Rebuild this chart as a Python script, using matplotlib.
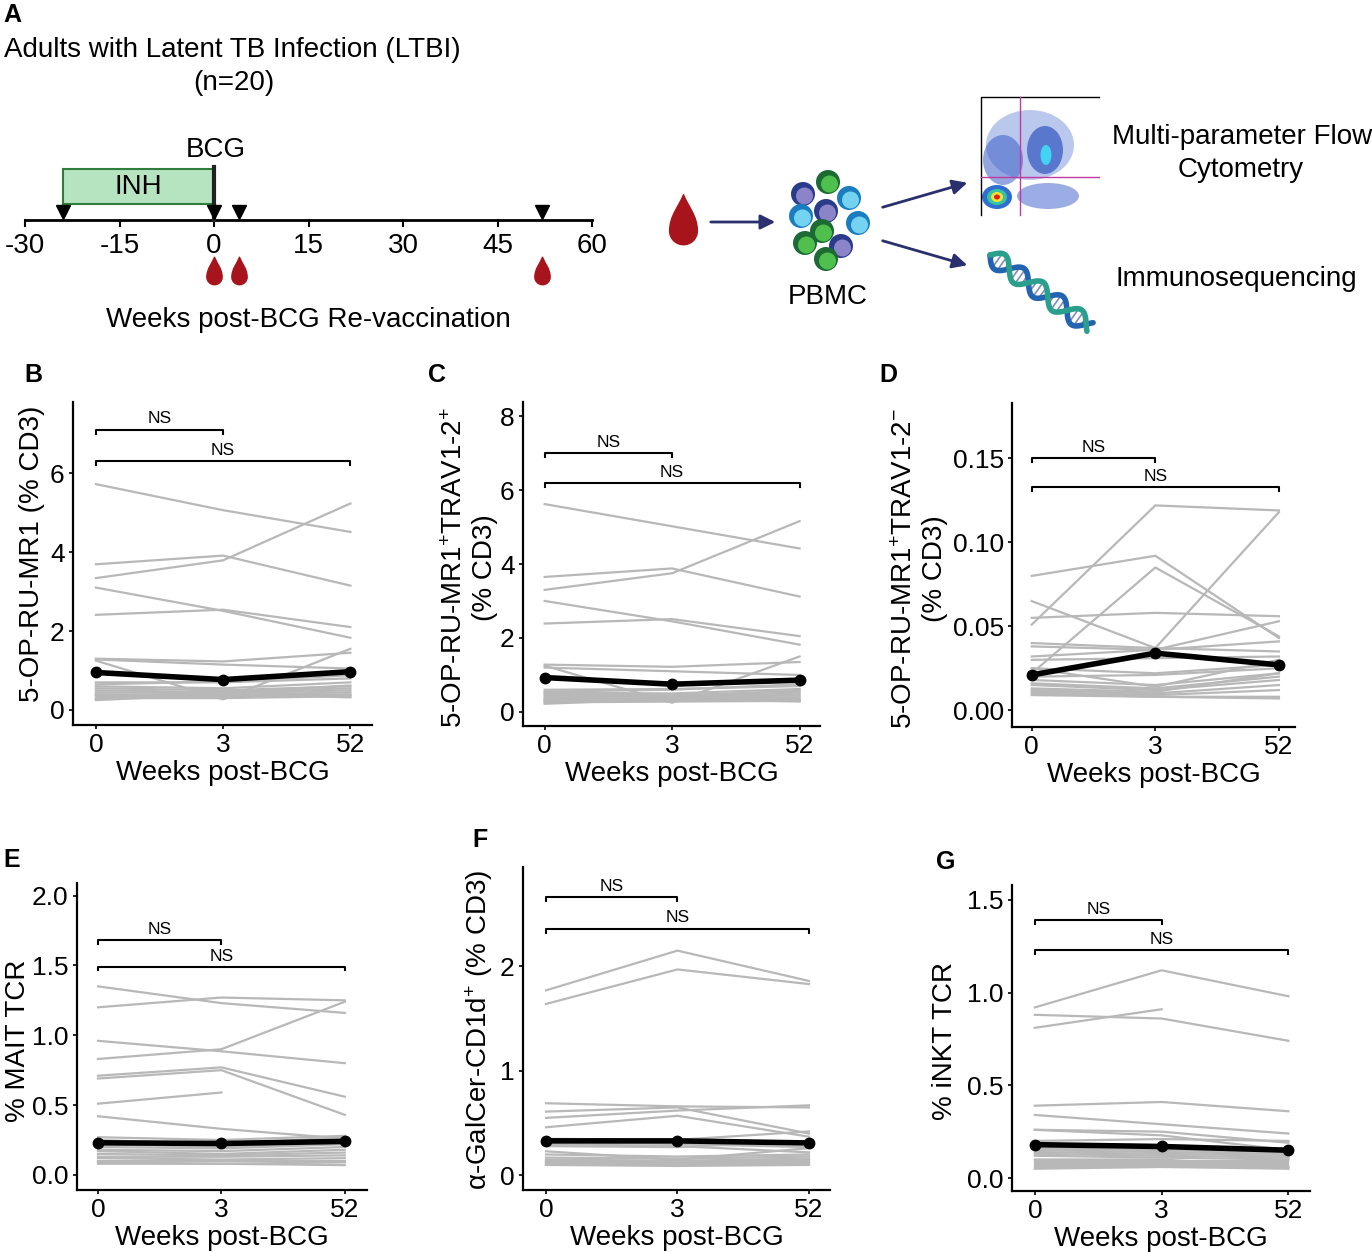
import numpy as np
import matplotlib
matplotlib.use('Agg')
import matplotlib.pyplot as plt
from matplotlib.path import Path
from matplotlib.patches import Rectangle, Ellipse, Circle

plt.rcParams['font.family'] = ['Liberation Sans', 'DejaVu Sans']
plt.rcParams['mathtext.fontset'] = 'custom'
plt.rcParams['mathtext.rm'] = 'Liberation Sans'
plt.rcParams['mathtext.it'] = 'Liberation Sans:italic'

# ---- panel A timeline data (weeks) ----
timeline_ticks = [-30, -15, 0, 15, 30, 45, 60]
visit_weeks = [-24, 0, 4, 52]
sample_weeks = [0, 4, 52]
inh_start = -24
inh_end = 0

# ---- schematic cells (pixel layout of the illustration) ----
cell_x = [828, 803, 849, 801, 826, 858, 822, 841, 805, 826]
cell_y = [182, 194, 198, 216, 211, 223, 231, 246, 243, 259]
cell_kind = ['g', 'p', 'b', 'b', 'p', 'b', 'g', 'p', 'g', 'g']

# ---- line panels: rows = participants, cols = week 0, 3, 52 ----
weeks = ['0', '3', '52']

b_lines = [
    [5.72, 5.06, 4.51], [3.34, 3.79, 5.23], [3.69, 3.91, 3.15], [3.10, 2.51, 1.83],
    [2.41, 2.54, 2.10], [1.30, 1.23, 1.45], [1.25, 0.27, 1.55], [1.28, 1.15, 1.05],
    [0.70, 0.70, 0.80], [0.65, 0.72, 0.88], [0.60, 0.55, 0.70], [0.55, 0.50, 0.60],
    [0.50, 0.45, 0.55], [0.45, 0.42, 0.50], [0.40, 0.38, 0.45], [0.38, 0.35, 0.40],
    [0.35, 0.33, 0.38], [0.30, 0.30, 0.35], [0.25, 0.40, 0.32], [0.28, 0.45, 0.62],
]
b_summary = [0.95, 0.77, 0.97]

c_lines = [
    [5.62, 5.02, 4.42], [3.30, 3.75, 5.16], [3.65, 3.88, 3.12], [3.00, 2.45, 1.82],
    [2.39, 2.51, 2.05], [1.28, 1.22, 1.35], [1.25, 0.25, 1.50], [1.20, 1.10, 1.00],
    [0.60, 0.62, 0.70], [0.55, 0.60, 0.75], [0.52, 0.50, 0.62], [0.48, 0.45, 0.55],
    [0.45, 0.40, 0.50], [0.40, 0.38, 0.45], [0.36, 0.35, 0.40], [0.33, 0.32, 0.36],
    [0.30, 0.30, 0.33], [0.26, 0.28, 0.30], [0.22, 0.36, 0.28], [0.28, 0.42, 0.58],
]
c_summary = [0.93, 0.75, 0.86]

d_lines = [
    [0.080, 0.092, 0.043], [0.051, 0.122, 0.119], [0.065, 0.037, 0.035], [0.055, 0.058, 0.056],
    [0.022, 0.085, 0.044], [0.040, 0.037, 0.118], [0.032, 0.036, 0.053], [0.038, 0.036, 0.041],
    [0.030, 0.031, 0.032], [0.025, 0.022, 0.027], [0.020, 0.021, 0.025], [0.018, 0.015, 0.022],
    [0.016, 0.013, 0.020], [0.015, 0.012, 0.018], [0.013, 0.011, 0.022], [0.012, 0.010, 0.015],
    [0.011, 0.009, 0.012], [0.010, 0.008, 0.008], [0.009, 0.008, 0.007], [0.025, 0.014, 0.030],
]
d_summary = [0.021, 0.034, 0.027]

e_lines = [
    [1.35, 1.23, 1.16], [1.20, 1.27, 1.25], [0.96, 0.885, 0.80], [0.83, 0.90, 1.24],
    [0.71, 0.77, 0.56], [0.69, 0.75, 0.43], [0.51, 0.59, np.nan], [0.42, 0.33, 0.26],
    [0.27, 0.25, 0.28], [0.25, 0.22, 0.27], [0.22, 0.20, 0.24], [0.20, 0.19, 0.22],
    [0.18, 0.17, 0.20], [0.17, 0.15, 0.18], [0.15, 0.14, 0.16], [0.13, 0.13, 0.14],
    [0.12, 0.11, 0.12], [0.10, 0.10, 0.10], [0.09, 0.08, 0.09], [0.08, 0.08, 0.07],
]
e_summary = [0.23, 0.225, 0.24]

f_lines = [
    [1.77, 2.15, 1.86], [1.64, 1.97, 1.83], [0.69, 0.66, 0.65], [0.61, 0.65, 0.40],
    [0.55, 0.62, 0.67], [0.46, 0.57, 0.37], [0.35, 0.34, 0.42], [0.32, 0.30, 0.27],
    [0.30, 0.28, 0.22], [0.23, 0.15, 0.26], [0.20, 0.18, 0.20], [0.17, 0.16, 0.18],
    [0.15, 0.14, 0.16], [0.14, 0.13, 0.15], [0.13, 0.12, 0.14], [0.12, 0.12, 0.13],
    [0.11, 0.11, 0.12], [0.10, 0.10, 0.11], [0.10, 0.09, 0.10], [0.28, 0.27, 0.33],
]
f_summary = [0.33, 0.33, 0.31]

g_lines = [
    [0.92, 1.12, 0.98], [0.88, 0.86, 0.74], [0.81, 0.91, np.nan], [0.39, 0.41, 0.36],
    [0.34, 0.29, 0.24], [0.26, 0.25, 0.19], [0.26, 0.23, 0.15], [0.20, 0.21, 0.20],
    [0.17, 0.17, 0.15], [0.16, 0.15, 0.14], [0.15, 0.14, 0.13], [0.14, 0.13, 0.12],
    [0.13, 0.12, 0.11], [0.12, 0.11, 0.10], [0.09, 0.09, 0.09], [0.08, 0.08, 0.08],
    [0.07, 0.07, 0.07], [0.06, 0.06, 0.06], [0.05, 0.06, 0.05], [0.10, 0.10, 0.06],
]
g_summary = [0.18, 0.17, 0.15]

W, H = 1372, 1252
fig = plt.figure(figsize=(W / 100, H / 100), dpi=100)


def px_axes(l, t, r, b):
    return fig.add_axes([l / W, 1 - b / H, (r - l) / W, (b - t) / H])


def fig_text(x, y, s, **kw):
    fig.text(x / W, 1 - y / H, s, **kw)


# teardrop marker
drop = Path(
    [(0, 1), (0.15, 0.6), (0.5, 0.25), (0.5, -0.3),
     (0.5, -0.58), (0.28, -0.8), (0, -0.8),
     (-0.28, -0.8), (-0.5, -0.58), (-0.5, -0.3),
     (-0.5, 0.25), (-0.15, 0.6), (0, 1), (0, 1)],
    [Path.MOVETO] + [Path.CURVE4] * 12 + [Path.CLOSEPOLY])

# ---------------- panel A: timeline ----------------
fig_text(12, 15, 'A', fontsize=18, fontweight='bold', ha='center', va='center')
fig_text(4, 50, 'Adults with Latent TB Infection (LTBI)', fontsize=20, ha='left', va='center')
fig_text(234, 83, '(n=20)', fontsize=20, ha='center', va='center')

tl = px_axes(25, 0, 592, 345)
tl.set_xlim(-30, 60)
tl.set_ylim(345, 0)
tl.axis('off')
tl.plot([-30, 60], [220, 220], color='k', lw=2, clip_on=False)
for w in timeline_ticks:
    tl.plot([w, w], [220, 226], color='k', lw=1.5, clip_on=False)
    tl.text(w, 246, str(w), ha='center', va='center', fontsize=20)
tl.add_patch(Rectangle((inh_start, 169), inh_end - inh_start, 35, facecolor='#b7e4c0',
                       edgecolor='#2f7d3c', lw=1.5))
tl.text((inh_start + inh_end) / 2, 187, 'INH', ha='center', va='center', fontsize=20)
tl.plot([0, 0], [167, 220], color='#222222', lw=3)
tl.text(0.3, 150, 'BCG', ha='center', va='center', fontsize=20)
tl.plot(visit_weeks, [212] * len(visit_weeks), 'v', color='k', ms=10, clip_on=False)
tl.plot(sample_weeks, [272] * len(sample_weeks), ls='none', marker=drop, ms=22,
        color='#a8141c', clip_on=False)
tl.text(15, 320, 'Weeks post-BCG Re-vaccination', ha='center', va='center', fontsize=20)

# ---------------- panel A: workflow schematic ----------------
sc = px_axes(620, 90, 1372, 345)
sc.set_xlim(620, 1372)
sc.set_ylim(345, 90)
sc.axis('off')
sc.plot([683], [222], ls='none', marker=drop, ms=40, color='#a8141c')
arrow_col = '#2a2f6e'
sc.annotate('', xy=(778, 222), xytext=(708, 222),
            arrowprops=dict(arrowstyle='-|>', color=arrow_col, lw=2, mutation_scale=22))
sc.annotate('', xy=(970, 182), xytext=(880, 208),
            arrowprops=dict(arrowstyle='-|>', color=arrow_col, lw=2, mutation_scale=22))
sc.annotate('', xy=(970, 266), xytext=(880, 240),
            arrowprops=dict(arrowstyle='-|>', color=arrow_col, lw=2, mutation_scale=22))

cell_cols = {'g': ('#1c6a34', '#4fbf4d'), 'p': ('#2b3b8c', '#8c84c8'), 'b': ('#1b7dc0', '#73d3f0')}
for cx, cy, k in zip(cell_x, cell_y, cell_kind):
    outer, inner = cell_cols[k]
    sc.add_patch(Circle((cx, cy), 12, facecolor=outer, edgecolor='none'))
    sc.add_patch(Circle((cx + 1.5, cy + 2), 8.5, facecolor=inner, edgecolor='none'))
sc.text(828, 297, 'PBMC', ha='center', va='center', fontsize=20)

# flow cytometry icon
sc.add_patch(Rectangle((981, 97), 118, 118, facecolor='white', edgecolor='none'))
sc.plot([981, 981, 1099], [215, 97, 97], color='k', lw=1)
for (ex, ey, ew, eh, col, a) in [
        (1030, 145, 88, 70, '#6a86d8', 0.45), (1003, 160, 40, 50, '#3a5ec8', 0.55),
        (1045, 150, 36, 48, '#2f55c0', 0.7), (1048, 196, 62, 26, '#4a6ad0', 0.55),
        (1046, 155, 11, 20, '#41d3f3', 1.0),
        (997, 197, 30, 24, '#2f6fd0', 1.0), (997, 197, 20, 16, '#38c4a0', 1.0),
        (997, 197, 12, 10, '#f2e336', 1.0), (997, 197, 6, 5, '#e02020', 1.0)]:
    sc.add_patch(Ellipse((ex, ey), ew, eh, facecolor=col, edgecolor='none', alpha=a))
sc.plot([1020, 1020], [97, 215], color='#c03aa0', lw=1)
sc.plot([981, 1099], [177, 177], color='#c03aa0', lw=1)
sc.text(1112, 137, 'Multi-parameter Flow', ha='left', va='center', fontsize=20)
sc.text(1241, 170, 'Cytometry', ha='center', va='center', fontsize=20)

# DNA helix icon
t = np.linspace(0, 1, 200)
hx = 990 + 100 * t
hy = 255 + 72 * t
off = 9 * np.sin(2 * np.pi * 2.6 * t)
nx, ny = -0.584, 0.81
for ti in np.arange(0.03, 1.0, 0.045):
    o = 9 * np.sin(2 * np.pi * 2.6 * ti)
    bx, by = 990 + 100 * ti, 255 + 72 * ti
    sc.plot([bx + nx * o, bx - nx * o], [by + ny * o, by - ny * o], color='#7d8fb8', lw=1.2)
sc.plot(hx + nx * off, hy + ny * off, color='#2364b0', lw=4, solid_capstyle='round')
sc.plot(hx - nx * off, hy - ny * off, color='#2aa08c', lw=4, solid_capstyle='round')
sc.text(1116, 279, 'Immunosequencing', ha='left', va='center', fontsize=20)

# ---------------- line panels B-G ----------------
panels = [
    dict(letter='B', box=(73, 402, 372, 725), lines=b_lines, summary=b_summary,
         xlim=(-0.18, 2.17), ylim=(-0.38, 7.8), yticks=[0, 2, 4, 6], fmt='{:g}',
         ylabel='5-OP-RU-MR1 (% CD3)', lab=(-0.094, 0.53), brackets=(7.1, 6.3),
         letter_pos=(33, 375)),
    dict(letter='C', box=(523, 402, 820, 726), lines=c_lines, summary=c_summary,
         xlim=(-0.17, 2.16), ylim=(-0.38, 8.38), yticks=[0, 2, 4, 6, 8], fmt='{:g}',
         ylabel='5-OP-RU-MR1$^{+}$TRAV1-2$^{+}$\n(% CD3)', lab=(-0.084, 0.49),
         brackets=(7.0, 6.19), letter_pos=(437, 375)),
    dict(letter='D', box=(1012, 403, 1295, 727), lines=d_lines, summary=d_summary,
         xlim=(-0.16, 2.13), ylim=(-0.010, 0.183), yticks=[0, 0.05, 0.10, 0.15], fmt='{:.2f}',
         ylabel='5-OP-RU-MR1$^{+}$TRAV1-2$^{-}$\n(% CD3)', lab=(-0.226, 0.49),
         brackets=(0.150, 0.133), letter_pos=(888, 375)),
    dict(letter='E', box=(77, 883, 367, 1190), lines=e_lines, summary=e_summary,
         xlim=(-0.17, 2.18), ylim=(-0.108, 2.09), yticks=[0, 0.5, 1.0, 1.5, 2.0], fmt='{:.1f}',
         ylabel='% MAIT TCR', lab=(-0.16, 0.485), brackets=(1.68, 1.49),
         letter_pos=(12, 860)),
    dict(letter='F', box=(523, 867, 830, 1190), lines=f_lines, summary=f_summary,
         xlim=(-0.175, 2.16), ylim=(-0.14, 2.95), yticks=[0, 1, 2], fmt='{:g}',
         ylabel='α-GalCer-CD1d$^{+}$ (% CD3)', lab=(-0.091, 0.495), brackets=(2.66, 2.36),
         letter_pos=(480, 840)),
    dict(letter='G', box=(1012, 885, 1310, 1191), lines=g_lines, summary=g_summary,
         xlim=(-0.18, 2.17), ylim=(-0.07, 1.58), yticks=[0, 0.5, 1.0, 1.5], fmt='{:.1f}',
         ylabel='% iNKT TCR', lab=(-0.181, 0.49), brackets=(1.39, 1.23),
         letter_pos=(946, 862)),
]

x = np.arange(len(weeks))
for p in panels:
    ax = px_axes(*p['box'])
    for row in p['lines']:
        ax.plot(x, row, color='#b8b8b8', lw=1.6, zorder=2)
    ax.plot(x, p['summary'], color='k', lw=4, marker='o', ms=7.5, zorder=5,
            solid_capstyle='round')
    ax.set_xlim(*p['xlim'])
    ax.set_ylim(*p['ylim'])
    ax.set_xticks(x)
    ax.set_xticklabels(weeks)
    ax.set_yticks(p['yticks'])
    ax.set_yticklabels([p['fmt'].format(v) for v in p['yticks']])
    ax.tick_params(length=3, width=1.2, labelsize=19, pad=3)
    for s in ['top', 'right']:
        ax.spines[s].set_visible(False)
    for s in ['left', 'bottom']:
        ax.spines[s].set_linewidth(1.6)
    ax.set_xlabel('Weeks post-BCG', fontsize=20, labelpad=2)
    ax.set_ylabel(p['ylabel'], fontsize=20)
    ax.yaxis.set_label_coords(*p['lab'])

    # significance brackets
    span = p['ylim'][1] - p['ylim'][0]
    tick = 0.012 * span
    for (x0, x1), yb in zip([(0, 1), (0, 2)], p['brackets']):
        ax.plot([x0, x0, x1, x1], [yb - tick, yb, yb, yb - tick], color='k', lw=1.5)
        ax.text((x0 + x1) / 2 if x1 == 1 else 1, yb + 0.01 * span, 'NS', ha='center',
                va='bottom', fontsize=12.5)

    fig_text(*p['letter_pos'], p['letter'], fontsize=18, fontweight='bold',
             ha='center', va='center')

fig.savefig('out.png', dpi=100)
